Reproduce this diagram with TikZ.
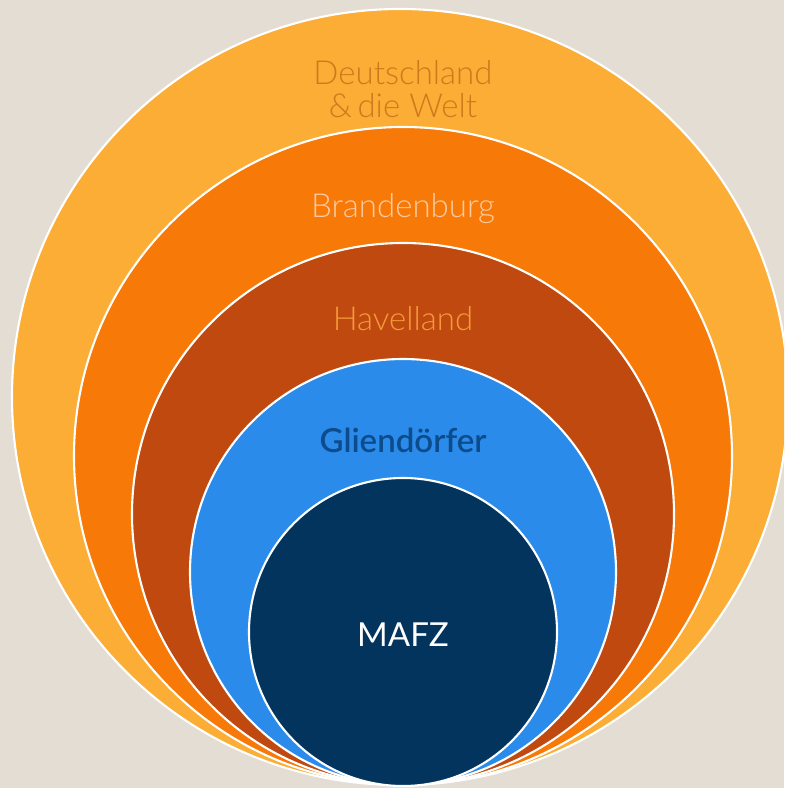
\documentclass[tikz,border=0pt]{standalone}
\usepackage{fontspec}
\setmainfont{Lato}
\newfontfamily\latolight{Lato Light}
\newfontfamily\latosemi{Lato Semibold}
\usetikzlibrary{positioning}

\definecolor{bgbeige}{HTML}{E4DDD4}
\definecolor{ringworld}{HTML}{FBAD35}
\definecolor{ringland}{HTML}{F77A08}
\definecolor{ringkreis}{HTML}{C0490F}
\definecolor{ringdorf}{HTML}{2B8BEA}
\definecolor{ringcore}{HTML}{03345E}
\definecolor{txtworld}{HTML}{CC7A1C}
\definecolor{txtland}{HTML}{FAC9A0}
\definecolor{txtkreis}{HTML}{F49A3A}
\definecolor{txtdorf}{HTML}{0D4C8C}

\tikzset{
  ring/.style={draw=white, line width=1.5pt},
  ringlabel/.style={anchor=base, inner sep=0pt, font=\latolight\fontsize{23.5}{23.5}\selectfont}
}

\begin{document}
\begin{tikzpicture}[x=0.025cm, y=-0.025cm]
%-------->canvas<--------------
\useasboundingbox (0,0) rectangle (784,788);
\fill[bgbeige] (0,0) rectangle (784,788);
\clip (0,0) rectangle (784,788);
%-------->rings<--------------
\filldraw[ring, fill=ringworld] (400,397) circle [radius=388]; % Welt
\filldraw[ring, fill=ringland] (403,456) circle [radius=329]; % Brandenburg
\filldraw[ring, fill=ringkreis] (403,514) circle [radius=271]; % Havelland
\filldraw[ring, fill=ringdorf] (403,572) circle [radius=213]; % Dorf
\filldraw[ring, fill=ringcore] (403,632) circle [radius=154]; % MAFZ
%-------->labels<--------------
\node[ringlabel, text=txtworld] (deutschland) at (403,85) {Deutschland};
\node[ringlabel, text=txtworld] (welt) at (403,118) {\&\,die Welt};
\node[ringlabel, text=txtland] (brandenburg) at (403,217) {Brandenburg};
\node[ringlabel, text=txtkreis] (havelland) at (403,330) {Havelland};
\node[ringlabel, text=txtdorf, font=\latosemi\fontsize{23.5}{23.5}\selectfont] (gliendorfer) at (403,452) {Gliendörfer};
\node[ringlabel, text=white, font=\fontsize{23.5}{23.5}\selectfont] (mafz) at (403,646) {MAFZ};
\end{tikzpicture}
\end{document}
